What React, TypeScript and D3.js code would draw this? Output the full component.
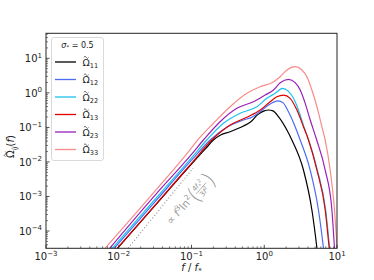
import React from 'react';
import * as d3 from 'd3';

// log10(f / f*) and log10(Omega)
const lf11 = [-2.3, -1.5, -1.0, -0.8, -0.699, -0.6, -0.469, -0.286, -0.18, -0.09, 0.0, 0.058, 0.12, 0.195, 0.311, 0.38, 0.539, 0.655, 0.724, 0.76];
const lo11 = [-5.18, -3.26, -2.06, -1.6, -1.365, -1.22, -1.125, -0.96, -0.83, -0.63, -0.52, -0.497, -0.52, -0.69, -1.076, -1.365, -2.234, -3.392, -4.5, -5.2];

const lf12 = [-2.3, -1.5, -1.0, -0.744, -0.514, -0.286, -0.17, -0.056, 0.058, 0.19, 0.26, 0.333, 0.425, 0.494, 0.631, 0.745, 0.814, 0.85];
const lo12 = [-5.07, -3.15, -1.95, -1.365, -0.998, -0.786, -0.708, -0.546, -0.352, -0.23, -0.29, -0.546, -0.98, -1.365, -2.234, -3.392, -4.5, -5.2];

const lf22 = [-2.3, -1.5, -1.0, -0.79, -0.561, -0.331, -0.102, 0.036, 0.15, 0.25, 0.33, 0.402, 0.47, 0.545, 0.61, 0.73, 0.845, 0.9, 0.94];
const lo22 = [-5.01, -3.08, -1.88, -1.365, -0.882, -0.592, -0.401, -0.158, -0.013, 0.13, 0.05, -0.158, -0.497, -0.98, -1.365, -2.234, -3.392, -4.5, -5.2];

const lf13 = [-2.3, -1.5, -1.0, -0.721, -0.469, -0.239, -0.056, 0.081, 0.173, 0.264, 0.356, 0.449, 0.539, 0.608, 0.724, 0.838, 0.893, 0.93];
const lo13 = [-5.17, -3.25, -2.04, -1.365, -0.931, -0.708, -0.497, -0.257, -0.112, -0.063, -0.158, -0.497, -0.98, -1.365, -2.234, -3.392, -4.5, -5.2];

const lf23 = [-2.3, -1.5, -1.0, -0.836, -0.607, -0.377, -0.149, 0.012, 0.127, 0.219, 0.333, 0.425, 0.494, 0.563, 0.632, 0.721, 0.838, 0.93, 0.966, 0.99];
const lo23 = [-4.94, -2.96, -1.78, -1.365, -0.836, -0.448, -0.257, -0.063, 0.082, 0.294, 0.392, 0.294, 0.082, -0.303, -0.786, -1.365, -2.234, -3.392, -4.5, -5.2];

const lf33 = [-2.3, -1.5, -1.04, -0.905, -0.699, -0.469, -0.239, -0.056, 0.105, 0.219, 0.311, 0.425, 0.517, 0.586, 0.655, 0.724, 0.792, 0.838, 0.906, 0.966, 0.999, 1.03];
const lo33 = [-4.77, -2.84, -1.7, -1.34, -0.882, -0.401, -0.013, 0.178, 0.294, 0.467, 0.661, 0.757, 0.661, 0.467, 0.082, -0.401, -0.98, -1.365, -2.234, -3.392, -4.4, -5.2];

const guideF = [0.0135, 0.105];
const guideOmega = [3.2e-5, 6.6e-3];

const seriesNames = ['11', '12', '22', '13', '23', '33'];
const seriesColors = ['#000000', '#4a6cf2', '#1fc0ee', '#e00000', '#9a1fb8', '#f88a8a'];
const seriesLf = [lf11, lf12, lf22, lf13, lf23, lf33];
const seriesLo = [lo11, lo12, lo22, lo13, lo23, lo33];

const xTickExps = [-3, -2, -1, 0, 1];
const yTickExps = [-4, -3, -2, -1, 0, 1];

const W = 374;
const H = 280;
const L = 46, R = 337, T = 33.3, B = 248.3;

const minus = (n: number) => (n < 0 ? '\u2212' + Math.abs(n) : String(n));

// Omega with a tilde (drawn as a small path) above it
const OmegaT = ({ x, y, size, sub, color, withArg }: any) => {
  const w = size * 0.5;
  const cx = x + size * 0.39;
  const ty = y - size * 0.86;
  const h = size * 0.12;
  return (
    <g>
      <text x={x} y={y} fontSize={size} fill={color}>
        {'\u03A9'}<tspan dy={size * 0.25} fontSize={size * 0.7} fontStyle={sub === 'ij' ? 'italic' : 'normal'}>{sub}</tspan>
        {withArg ? <><tspan dy={-size * 0.25}>(</tspan><tspan fontStyle="italic">f</tspan>)</> : null}
      </text>
      <path
        d={`M${cx - w / 2},${ty} Q${cx - w / 4},${ty - 2 * h} ${cx},${ty} T${cx + w / 2},${ty}`}
        fill="none" stroke={color} strokeWidth={size * 0.07}
      />
    </g>
  );
};

export default function App() {
  const x = d3.scaleLog().domain([1e-3, 10]).range([L, R]);
  const y = d3.scaleLog().domain([Math.pow(10, -4.5), Math.pow(10, 1.724)]).range([B, T]);

  const line = d3.line<[number, number]>()
    .x(d => x(d[0]))
    .y(d => y(d[1]))
    .curve(d3.curveMonotoneX);

  const xMinor: number[] = [];
  for (let e = -3; e < 1; e++) for (let k = 2; k < 10; k++) xMinor.push(k * Math.pow(10, e));
  const yMinor: number[] = [];
  for (let e = -5; e < 2; e++) for (let k = 2; k < 10; k++) {
    const v = k * Math.pow(10, e);
    if (v > Math.pow(10, -4.5) && v < Math.pow(10, 1.724)) yMinor.push(v);
  }

  const font = 'DejaVu Sans, sans-serif';
  const axisCol = '#262626';

  return (
    <svg width={W} height={H} style={{ position: 'absolute', left: 0, top: 0 }} fontFamily={font}>
      <rect width={W} height={H} fill="#fff" />
      <defs>
        <clipPath id="plot">
          <rect x={L} y={T} width={R - L} height={B - T} />
        </clipPath>
      </defs>

      <g clipPath="url(#plot)">
        <path
          d={line(guideF.map((f, i) => [f, guideOmega[i]] as [number, number])) || ''}
          fill="none" stroke="#8a8a8a" strokeWidth={1.1} strokeDasharray="1,2.2"
        />
        {seriesNames.map((n, i) => (
          <path
            key={n}
            d={line(seriesLf[i].map((v, j) => [Math.pow(10, v), Math.pow(10, seriesLo[i][j])] as [number, number])) || ''}
            fill="none" stroke={seriesColors[i]} strokeWidth={1.2}
          />
        ))}
      </g>

      {/* guide annotation */}
      <g transform="translate(171,225) rotate(-48)" fill="#9a9a9a" fontSize={10.5}>
        <text x={0} y={0}>{'\u221D '}<tspan fontStyle="italic">f</tspan><tspan dy={-4} fontSize={7.5}>3</tspan><tspan dy={4}>ln</tspan><tspan dy={-4} fontSize={7.5}>2</tspan></text>
        <text x={33} y={5} fontSize={22} fontWeight={200}>(</text>
        <text x={47} y={-4.5} fontSize={7} textAnchor="middle">4<tspan fontStyle="italic">f</tspan><tspan dy={1.5} fontSize={5}>*</tspan><tspan dy={-4} fontSize={5}>2</tspan></text>
        <line x1={40} x2={55} y1={-2.2} y2={-2.2} stroke="#9a9a9a" strokeWidth={0.7} />
        <text x={47} y={5} fontSize={7} textAnchor="middle">3<tspan fontStyle="italic">f</tspan><tspan dy={-3} fontSize={5}>2</tspan></text>
        <text x={55} y={5} fontSize={22} fontWeight={200}>)</text>
      </g>

      {/* frame */}
      <rect x={L} y={T} width={R - L} height={B - T} fill="none" stroke={axisCol} strokeWidth={1} />

      {/* x ticks */}
      {xTickExps.map(e => (
        <g key={'xt' + e}>
          <line x1={x(Math.pow(10, e))} x2={x(Math.pow(10, e))} y1={B} y2={B - 3.5} stroke={axisCol} strokeWidth={0.8} />
          <text x={x(Math.pow(10, e))} y={260} fontSize={10} textAnchor="middle" fill="#222">
            10<tspan dy={-4.5} fontSize={7}>{minus(e)}</tspan>
          </text>
        </g>
      ))}
      {xMinor.map(v => (
        <line key={'xm' + v} x1={x(v)} x2={x(v)} y1={B} y2={B - 2} stroke={axisCol} strokeWidth={0.6} />
      ))}

      {/* y ticks */}
      {yTickExps.map(e => (
        <g key={'yt' + e}>
          <line x1={L} x2={L + 3.5} y1={y(Math.pow(10, e))} y2={y(Math.pow(10, e))} stroke={axisCol} strokeWidth={0.8} />
          <text x={42} y={y(Math.pow(10, e)) + 3.8} fontSize={10} textAnchor="end" fill="#222">
            10<tspan dy={-4.5} fontSize={7}>{minus(e)}</tspan>
          </text>
        </g>
      ))}
      {yMinor.map(v => (
        <line key={'ym' + v} x1={L} x2={L + 2} y1={y(v)} y2={y(v)} stroke={axisCol} strokeWidth={0.6} />
      ))}

      {/* axis labels */}
      <text x={191.5} y={271} fontSize={10} textAnchor="middle" fill="#222">
        <tspan fontStyle="italic">f</tspan> / <tspan fontStyle="italic">f</tspan><tspan dy={2} fontSize={7}>*</tspan>
      </text>
      <g transform="translate(14,158) rotate(-90)">
        <OmegaT x={0} y={0} size={10} sub="ij" color="#222" withArg />
      </g>

      {/* legend */}
      <rect x={51.5} y={37.5} width={52} height={123} rx={2.5} fill="#fff" fillOpacity={0.8} stroke="#d0d0d0" strokeWidth={0.8} />
      <text x={77.5} y={47.5} fontSize={8} textAnchor="middle" fill="#222">
        <tspan fontStyle="italic">σ</tspan><tspan dy={1.5} fontSize={5.5}>*</tspan><tspan dy={-1.5}> = 0.5</tspan>
      </text>
      {seriesNames.map((n, i) => {
        const ly = 62 + i * 17.5;
        return (
          <g key={'lg' + n}>
            <line x1={55} x2={76} y1={ly} y2={ly} stroke={seriesColors[i]} strokeWidth={1.3} />
            <OmegaT x={82.5} y={ly + 3.5} size={9.5} sub={n} color="#222" />
          </g>
        );
      })}
    </svg>
  );
}
